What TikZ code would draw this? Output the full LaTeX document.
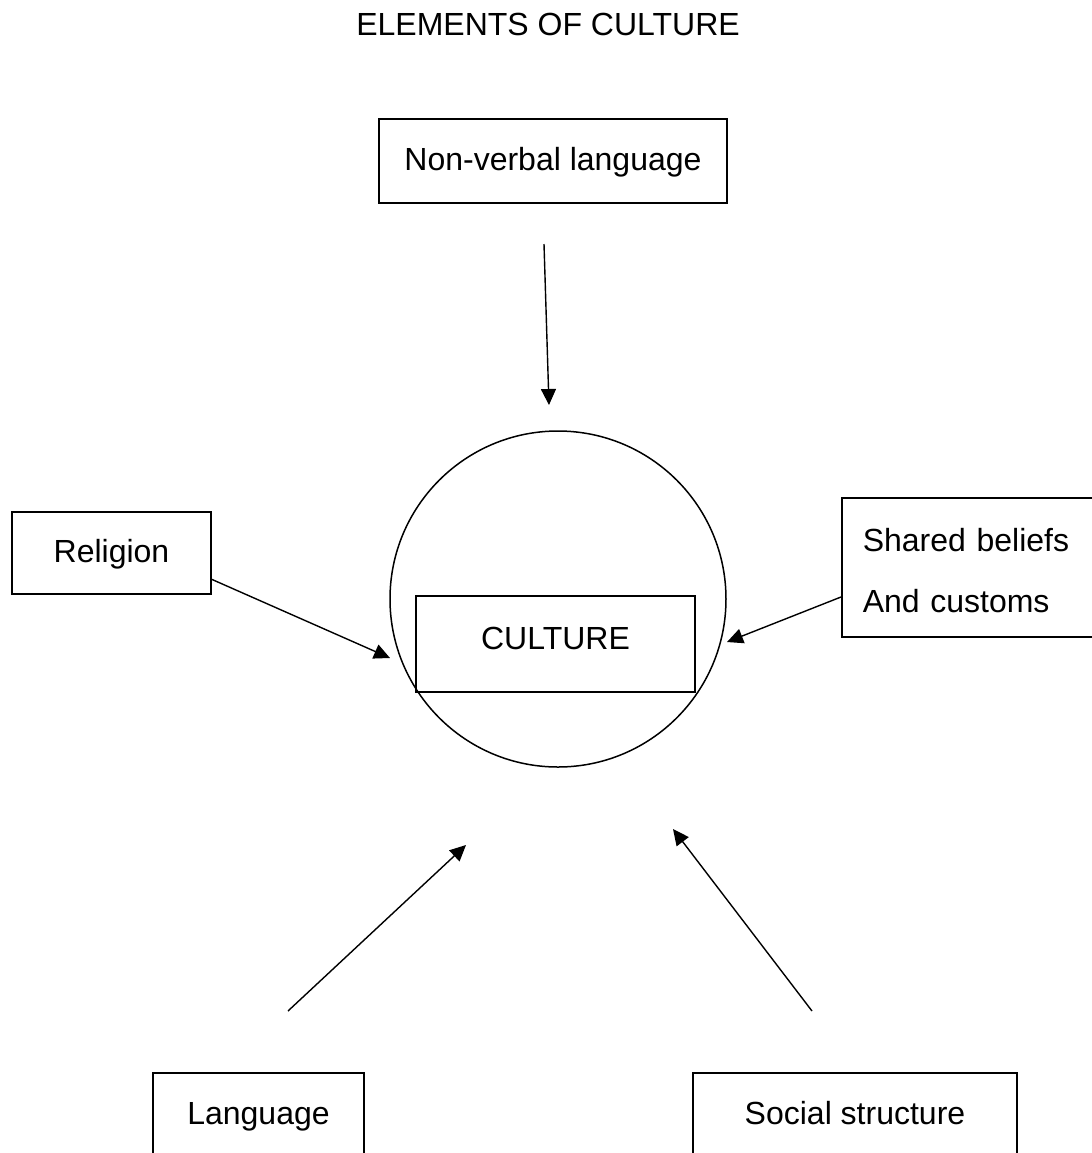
\documentclass[tikz,border=0pt]{standalone}
\usepackage{fontspec}
\setmainfont{Liberation Sans}
\usetikzlibrary{arrows.meta}
\begin{document}
\begin{tikzpicture}[x=0.5pt, y=-0.5pt,
  every node/.style={font=\fontsize{16pt}{19pt}\selectfont, inner sep=0pt},
  labelbox/.style={draw, line width=0.75pt, text height=0.97em, text depth=0pt},
  link/.style={line width=0.7pt, -{Triangle[length=8pt, width=7.5pt]}}]
  \useasboundingbox (0,0) rectangle (1092,1153);
  \clip (0,0) rectangle (1092,1153);

  % title
  \node[text height=0.97em, text depth=0pt] (title) at (548,26) {ELEMENTS OF CULTURE};

  % central circle with the CULTURE box
  \node[draw, circle, line width=0.75pt, minimum size=168pt] (ring) at (558,599) {};
  \node[labelbox, minimum width=139.5pt, minimum height=48pt, text height=0.75em, text depth=0.25em] (core) at (555.5,644) {CULTURE};

  % surrounding elements
  \node[labelbox, minimum width=174pt, minimum height=42pt] (nonverbal) at (553,161) {Non-verbal language};
  \node[labelbox, minimum width=99.5pt, minimum height=41pt] (religion) at (111.5,553) {Religion};
  \node[draw, line width=0.75pt, anchor=west, minimum height=69.5pt, text width=109pt,
        inner xsep=10.5pt, align=left, font=\fontsize{16pt}{30.5pt}\selectfont] (beliefs) at (841,567.5)
        {\raisebox{-1.5pt}[\height][\depth]{Shared beliefs}\\\raisebox{-1.5pt}[\height][\depth]{And customs}};
  \node[labelbox, minimum width=105.5pt, minimum height=42pt] (language) at (258.5,1115) {Language};
  \node[labelbox, minimum width=162pt, minimum height=42pt] (social) at (855,1115) {Social structure};

  % arrow end points
  \coordinate (nvA) at (544,244);   \coordinate (nvB) at (549,405);
  \coordinate (reA) at (211,579);   \coordinate (reB) at (390,658);
  \coordinate (shA) at (841,597);   \coordinate (shB) at (727,642);
  \coordinate (laA) at (288,1011);  \coordinate (laB) at (466,845);
  \coordinate (soA) at (812,1011);  \coordinate (soB) at (673,829);

  % arrows pointing at the culture circle
  \draw[link] (nvA) -- (nvB);
  \draw[link] (reA) -- (reB);
  \draw[link] (shA) -- (shB);
  \draw[link] (laA) -- (laB);
  \draw[link] (soA) -- (soB);
\end{tikzpicture}
\end{document}
